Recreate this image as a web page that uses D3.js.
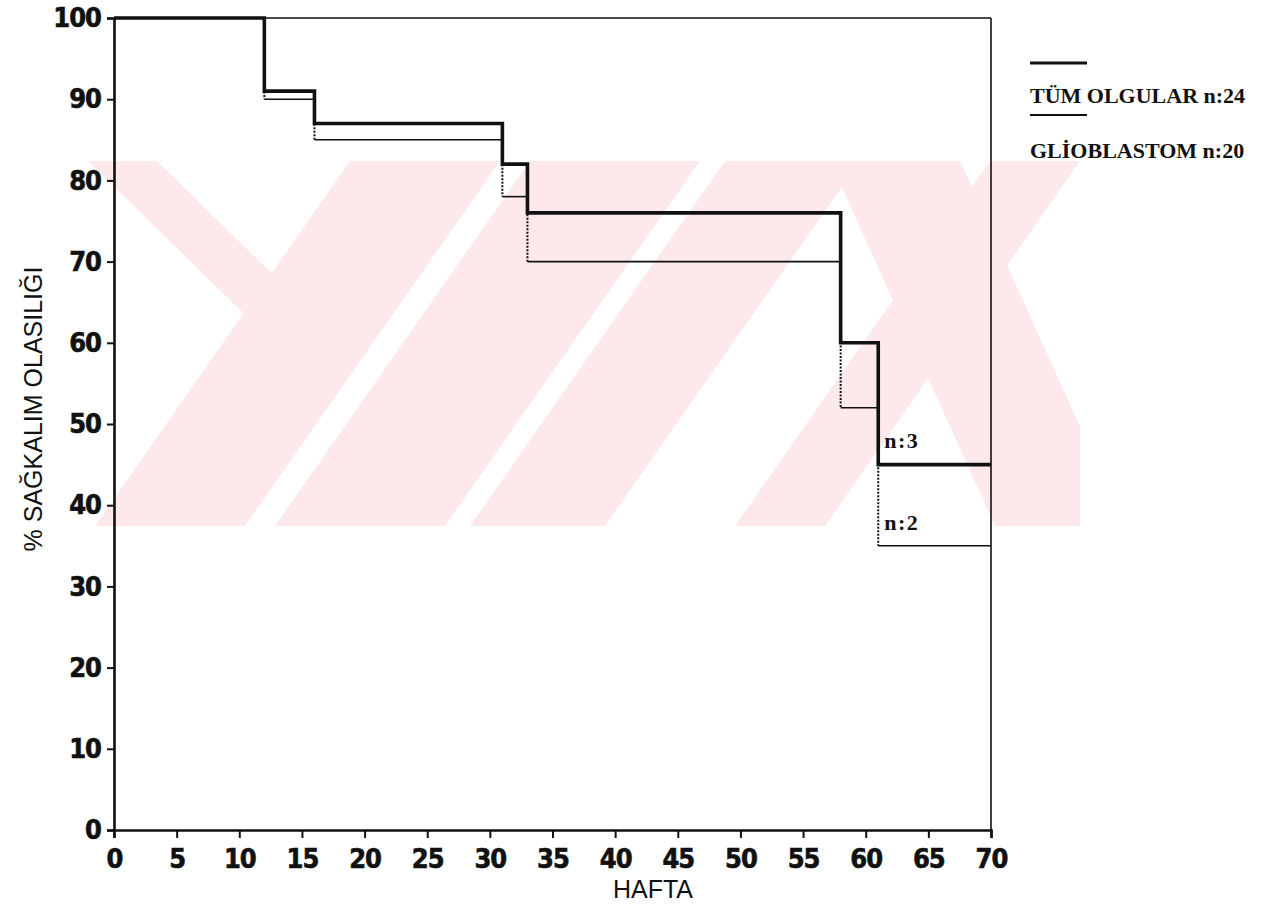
<!DOCTYPE html>
<html>
<head>
<meta charset="utf-8">
<script src="https://cdn.jsdelivr.net/npm/d3@7"></script>
<style>
  body { margin: 0; background: #fff; }
  svg { display: block; }
  .tick text { font-family: "DejaVu Sans Condensed", "DejaVu Sans", sans-serif; font-weight: bold; font-size: 27px; fill: #111; stroke: #111; stroke-width: 0.6px; }
  .tick line { stroke: #111; stroke-width: 2; }
  .axis-title { font-family: "Liberation Sans", Arial, sans-serif; font-size: 25px; fill: #111; }
  .serif-label { font-family: "Liberation Serif", "Times New Roman", serif; font-weight: bold; fill: #111; }
</style>
</head>
<body>
<div id="chart"></div>
<script>
// Kaplan-Meier survival
const weeks       = [0, 12, 16, 31, 33, 58, 61, 70];
const tumOlgular  = [100, 91, 87, 82, 76, 60, 45, 45];   // TÜM OLGULAR n:24 (thick)
const glioblastom = [100, 90, 85, 78, 70, 52, 35, 35];   // GLİOBLASTOM n:20 (thin)

const xTicks = d3.range(0, 71, 5);
const yTicks = d3.range(0, 101, 10);

const seriesNames = ["TÜM OLGULAR n:24", "GLİOBLASTOM n:20"];
const endLabels   = ["n:3", "n:2"];

const fullW = 1283, fullH = 910;
const margin = { top: 18, right: 292, bottom: 80, left: 114 };

const svg = d3.select("#chart").append("svg")
  .attr("width", fullW)
  .attr("height", fullH);

const x = d3.scaleLinear().domain([0, 70]).range([margin.left, fullW - margin.right]);
const y = d3.scaleLinear().domain([0, 100]).range([fullH - margin.bottom, margin.top]);

// faint watermark behind the plot (YÖK stamp), pixel shapes clipped to its band
const wmBand = { x0: 88, x1: 1080, y0: 161, y1: 526 };
const wmShapes = [
  [[88, 161], [157, 161], [345, 345], [276, 345]],
  [[350, 161], [500, 161], [245, 526], [95, 526]],
  [[530, 161], [700, 161], [445, 526], [275, 526]],
  [[725, 161], [860, 161], [605, 526], [470, 526]],
  [[830, 161], [960, 161], [1125, 526], [995, 526]],
  [[990, 161], [1080, 161], [825, 526], [735, 526]]
];
svg.append("clipPath").attr("id", "wm-clip")
  .append("rect")
  .attr("x", wmBand.x0).attr("y", wmBand.y0)
  .attr("width", wmBand.x1 - wmBand.x0).attr("height", wmBand.y1 - wmBand.y0);
svg.append("g").attr("clip-path", "url(#wm-clip)")
  .selectAll("polygon").data(wmShapes).join("polygon")
  .attr("points", d => d.map(p => p.join(",")).join(" "))
  .attr("fill", "#fde9ec");

// frame
const [xa, xb] = x.range();
const [yb, ya] = y.range();
svg.append("line").attr("x1", xa).attr("x2", xb).attr("y1", ya).attr("y2", ya)
  .attr("stroke", "#111").attr("stroke-width", 1.6);
svg.append("line").attr("x1", xb).attr("x2", xb).attr("y1", ya).attr("y2", yb)
  .attr("stroke", "#111").attr("stroke-width", 1.6);

// axes
const xAxisG = svg.append("g")
  .attr("transform", `translate(0,${yb})`)
  .call(d3.axisBottom(x).tickValues(xTicks).tickSize(8).tickPadding(11));
const yAxisG = svg.append("g")
  .attr("transform", `translate(${xa},0)`)
  .call(d3.axisLeft(y).tickValues(yTicks).tickSize(7).tickPadding(6));
[xAxisG, yAxisG].forEach(g => g.select(".domain").attr("stroke", "#111").attr("stroke-width", 2.6));
xAxisG.selectAll(".tick text").attr("letter-spacing", "-1px");
yAxisG.selectAll(".tick text").attr("letter-spacing", "-1px");

// axis titles
svg.append("text")
  .attr("class", "axis-title")
  .attr("x", 653).attr("y", 898)
  .attr("text-anchor", "middle")
  .text("HAFTA");
svg.append("text")
  .attr("class", "axis-title")
  .attr("text-anchor", "middle")
  .attr("transform", `translate(42,409) rotate(-90)`)
  .text("% SAĞKALIM OLASILIĞI");

// thin series: solid horizontals, dotted verticals
const thinPts = weeks.map((w, i) => ({ w, v: glioblastom[i] }));
svg.append("g").selectAll("line")
  .data(thinPts.slice(0, -1))
  .join("line")
  .attr("x1", d => x(d.w))
  .attr("x2", (d, i) => x(thinPts[i + 1].w))
  .attr("y1", d => y(d.v))
  .attr("y2", d => y(d.v))
  .attr("stroke", "#111")
  .attr("stroke-width", 1.6);
svg.append("g").selectAll("line")
  .data(thinPts.slice(1, -1))
  .join("line")
  .attr("x1", d => x(d.w))
  .attr("x2", d => x(d.w))
  .attr("y1", (d, i) => y(thinPts[i].v))
  .attr("y2", d => y(d.v))
  .attr("stroke", "#111")
  .attr("stroke-width", 2)
  .attr("stroke-dasharray", "2,1.5");

// thick series as a step line
const step = d3.line()
  .x(d => x(d.w))
  .y(d => y(d.v))
  .curve(d3.curveStepAfter);
svg.append("path")
  .datum(weeks.map((w, i) => ({ w, v: tumOlgular[i] })))
  .attr("d", step)
  .attr("fill", "none")
  .attr("stroke", "#111")
  .attr("stroke-width", 3.6)
  .attr("stroke-linejoin", "miter");

// n labels above final steps
const lastI = weeks.length - 2;
svg.append("text").attr("class", "serif-label")
  .attr("x", x(weeks[lastI]) + 6).attr("y", y(tumOlgular[lastI]) - 17)
  .attr("font-size", 22).attr("letter-spacing", "1.5px")
  .text(endLabels[0]);
svg.append("text").attr("class", "serif-label")
  .attr("x", x(weeks[lastI]) + 6).attr("y", y(glioblastom[lastI]) - 16)
  .attr("font-size", 22).attr("letter-spacing", "1.5px")
  .text(endLabels[1]);

// legend
const legend = svg.append("g").attr("transform", "translate(1030,0)");
const legendRows = [
  { name: seriesNames[0], lineY: 63, textY: 103, w: 3.2 },
  { name: seriesNames[1], lineY: 115, textY: 158, w: 2 }
];
legendRows.forEach(r => {
  legend.append("line")
    .attr("x1", 0).attr("x2", 57)
    .attr("y1", r.lineY).attr("y2", r.lineY)
    .attr("stroke", "#111").attr("stroke-width", r.w);
  legend.append("text").attr("class", "serif-label")
    .attr("x", 0).attr("y", r.textY)
    .attr("font-size", 22)
    .text(r.name);
});
</script>
</body>
</html>
